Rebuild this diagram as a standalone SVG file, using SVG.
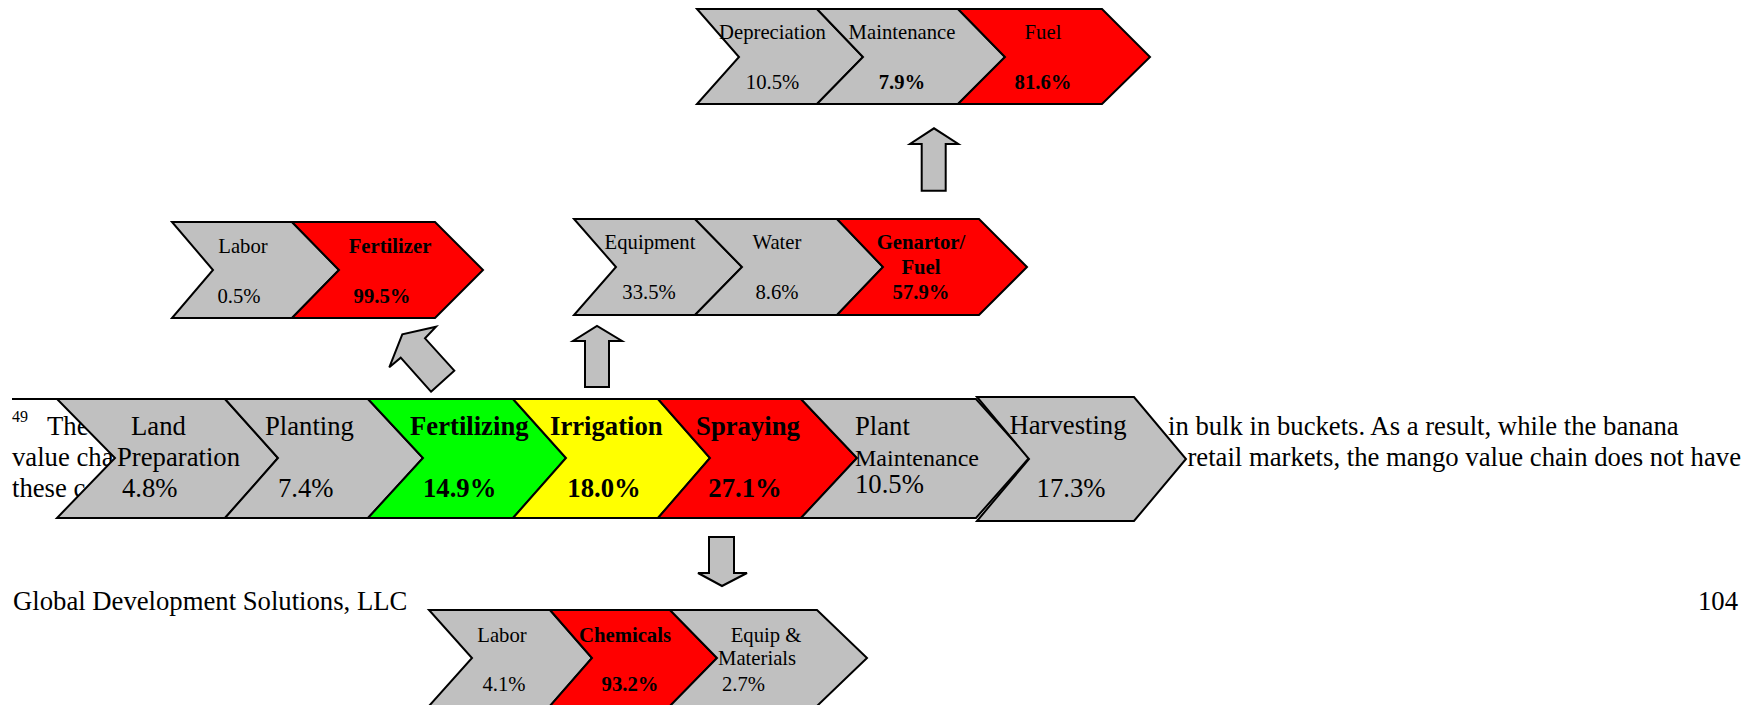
<svg xmlns="http://www.w3.org/2000/svg" width="1756" height="705" viewBox="0 0 1756 705">
<style>
text{font-family:"Liberation Serif","Times New Roman",serif;fill:#000}
.body{font-size:26.7px}
.sup{font-size:16px}
.m{font-size:26.7px}
.s{font-size:20.7px;text-anchor:middle}
.sl{font-size:20.7px}
.b{font-weight:bold}
.c{text-anchor:middle}
.gray{fill:#C0C0C0;stroke:#000;stroke-width:2;stroke-linejoin:miter}
.red{fill:#FF0000;stroke:#000;stroke-width:2}
.green{fill:#00FF00;stroke:#000;stroke-width:2}
.yellow{fill:#FFFF00;stroke:#000;stroke-width:2}
.arrow{fill:#C0C0C0;stroke:#000;stroke-width:2;stroke-linejoin:miter}
</style>
<rect width="1756" height="705" fill="#fff"/>

<g id="page-text">
<line x1="12" y1="399" x2="240" y2="399" stroke="#000" stroke-width="2"/>
<text class="sup" x="12" y="422">49</text>
<text class="body" x="47" y="435">The</text>
<text class="body" x="12" y="466">value cha</text>
<text class="body" x="12" y="497">these c</text>
<text class="body" x="1168" y="435">in bulk in buckets. As a result,  while the banana</text>
<text class="body" x="1741" y="466" text-anchor="end">retail markets, the mango value chain does not have</text>
<text class="body" x="13" y="610">Global Development Solutions, LLC</text>
<text class="body" x="1738" y="610" text-anchor="end">104</text>
</g>

<g id="connectors">
<polygon class="arrow" points="921.7,190.7 945.7,190.7 945.7,144 958.3,144 934,128.3 910,144 921.7,144"/>
<polygon class="arrow" points="585,387 609,387 609,341 622,341 597,326 573,341 585,341"/>
<polygon class="arrow" points="431,391.7 454.3,370.7 425,338.3 436,326.7 402.3,334.3 389.3,367.3 400.7,357.7"/>
<polygon class="arrow" points="709,537 734,537 734,573 747,573 722,586 698,573 709,573"/>
</g>

<g id="main-land-preparation">
<polygon class="gray" points="57,399 225,399 278,458 225,518 57,518 115,458"/>
<text class="m" x="131" y="435">Land</text>
<text class="m" x="117" y="466">Preparation</text>
<text class="m" x="122" y="497">4.8%</text>
</g>
<g id="main-planting">
<polygon class="gray" points="225,399 368,399 423,458 368,518 225,518 278,458"/>
<text class="m" x="265" y="435">Planting</text>
<text class="m" x="278" y="497">7.4%</text>
</g>
<g id="main-fertilizing">
<polygon class="green" points="368,399 513,399 566,458 513,518 368,518 423,458"/>
<text class="m b" x="410" y="435">Fertilizing</text>
<text class="m b" x="423" y="497">14.9%</text>
</g>
<g id="main-irrigation">
<polygon class="yellow" points="513,399 658,399 710,458 658,518 513,518 566,458"/>
<text class="m b" x="550" y="435">Irrigation</text>
<text class="m b c" x="604" y="497">18.0%</text>
</g>
<g id="main-spraying">
<polygon class="red" points="658,399 801,399 857,458 801,518 658,518 710,458"/>
<text class="m b c" x="748" y="435">Spraying</text>
<text class="m b c" x="745" y="497">27.1%</text>
</g>
<g id="main-plant-maintenance">
<polygon class="gray" points="801,399 976,399 1029,458 976,518 801,518 857,458"/>
<text class="m" x="855" y="435">Plant</text>
<text class="sl" x="855" y="466" style="font-size:24px">Maintenance</text>
<text class="m" x="855" y="493">10.5%</text>
</g>
<g id="main-harvesting">
<polygon class="gray" points="977,397 1134,397 1186,459 1134,521 977,521 1029,459"/>
<text class="m c" x="1068" y="434">Harvesting</text>
<text class="m c" x="1071" y="497">17.3%</text>
</g>

<g id="fuel-depreciation">
<polygon class="gray" points="697,9 817,9 863,57 817,104 697,104 739,57"/>
<text class="s" x="772.5" y="39">Depreciation</text>
<text class="s" x="772.5" y="89">10.5%</text>
</g>
<g id="fuel-maintenance">
<polygon class="gray" points="817,9 958,9 1005,57 958,104 817,104 863,57"/>
<text class="s" x="902" y="39">Maintenance</text>
<text class="s b" x="902" y="89">7.9%</text>
</g>
<g id="fuel-fuel">
<polygon class="red" points="958,9 1102,9 1150,57 1102,104 958,104 1005,57"/>
<text class="s" x="1043" y="39">Fuel</text>
<text class="s b" x="1043" y="89">81.6%</text>
</g>

<g id="fert-labor">
<polygon class="gray" points="172,222 292,222 339,270 292,318 172,318 213,270"/>
<text class="s" x="243" y="253">Labor</text>
<text class="s" x="239" y="303">0.5%</text>
</g>
<g id="fert-fertilizer">
<polygon class="red" points="292,222 435,222 483,270 435,318 292,318 339,270"/>
<text class="s b" x="390" y="253">Fertilizer</text>
<text class="s b" x="382" y="303">99.5%</text>
</g>

<g id="irr-equipment">
<polygon class="gray" points="574,219 695,219 742,267 695,315 574,315 616,267"/>
<text class="s" x="650" y="249">Equipment</text>
<text class="s" x="649" y="299">33.5%</text>
</g>
<g id="irr-water">
<polygon class="gray" points="695,219 837,219 883,267 837,315 695,315 742,267"/>
<text class="s" x="777" y="249">Water</text>
<text class="s" x="777" y="299">8.6%</text>
</g>
<g id="irr-generator-fuel">
<polygon class="red" points="837,219 979,219 1027,267 979,315 837,315 883,267"/>
<text class="s b" x="921" y="249">Genartor/</text>
<text class="s b" x="921" y="274">Fuel</text>
<text class="s b" x="921" y="299">57.9%</text>
</g>

<g id="spray-labor">
<polygon class="gray" points="429,610 550,610 592,658 550,706 429,706 472,658"/>
<text class="s" x="502" y="642">Labor</text>
<text class="s" x="504" y="691">4.1%</text>
</g>
<g id="spray-chemicals">
<polygon class="red" points="550,610 670,610 717,658 670,706 550,706 592,658"/>
<text class="s b" x="625" y="642">Chemicals</text>
<text class="s b" x="630" y="691">93.2%</text>
</g>
<g id="spray-equip-materials">
<polygon class="gray" points="670,610 817,610 867,658 817,706 670,706 717,658"/>
<text class="s" x="766" y="642">Equip &amp;</text>
<text class="sl" x="718" y="665">Materials</text>
<text class="sl" x="722" y="691">2.7%</text>
</g>
</svg>
